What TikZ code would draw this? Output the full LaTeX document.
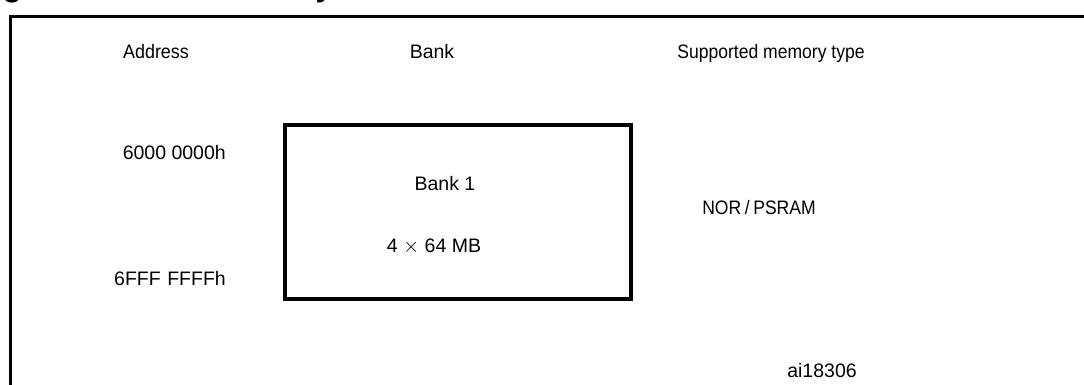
\documentclass[tikz,border=0pt]{standalone}
\usepackage{fontspec}
\setmainfont{Liberation Sans}
\newcommand{\hsq}[2]{\scalebox{#1}[1]{#2}}
\begin{document}
\begin{tikzpicture}[x=1pt,y=-1pt,
  lbl/.style={inner sep=0pt,font=\fontsize{19.5}{22}\selectfont},
  frameline/.style={line width=2.4pt},
  bankbox/.style={draw,line width=4pt,inner sep=0pt,minimum width=346pt,minimum height=174pt}]
\useasboundingbox (0,0) rectangle (1084,385);
\begin{scope}
\clip (0,0) rectangle (1084,385);
% cut-off title
\node[inner sep=0pt,anchor=base west,font=\fontsize{31}{36}\selectfont\bfseries] (title) at (-25,-3.5) {Figure 4. FSMC memory banks};
% outer frame
\coordinate (fbl) at (10.5,400);
\coordinate (ftl) at (10.5,16.5);
\coordinate (ftr) at (1100,16.5);
\draw[frameline] (fbl) -- (ftl) -- (ftr);
\end{scope}
% headings
\node[lbl,anchor=base] (haddr) at (156,59) {\hsq{0.92}{Address}};
\node[lbl,anchor=base] (hbank) at (432,59) {Bank};
\node[lbl,anchor=base] (htype) at (771,59) {\hsq{0.9}{Supported memory type}};
% addresses
\node[lbl,anchor=base east] (astart) at (226,160) {6000 0000h};
\node[lbl,anchor=base east] (aend) at (226,285) {6FFF\,\,FFFFh};
% bank box
\node[bankbox] (bank) at (458,212) {};
\node[lbl,anchor=base] (bname) at (445,190) {Bank 1};
\node[lbl,anchor=base] (bsize) at (434,252) {4 $\times$ 64 MB};
% memory type
\node[lbl,anchor=base] (mtype) at (759,214) {\hsq{0.9}{NOR\kern4pt/\kern4ptPSRAM}};
% reference code
\node[lbl,anchor=base] (code) at (822,377) {ai18306};
\end{tikzpicture}
\end{document}
